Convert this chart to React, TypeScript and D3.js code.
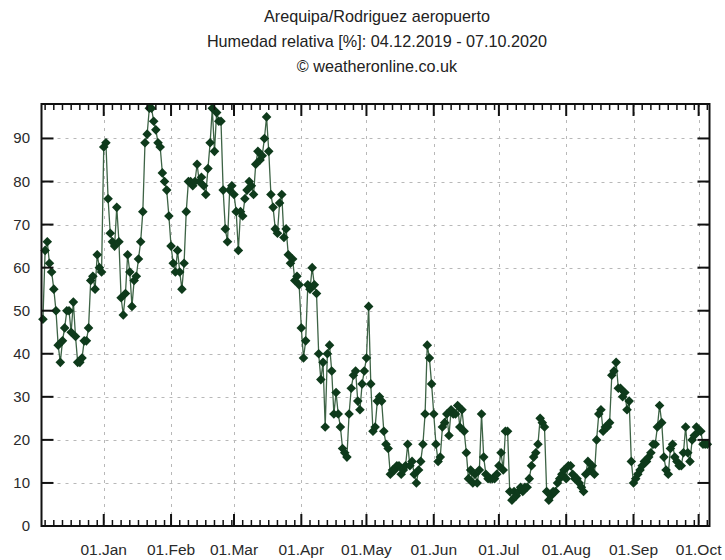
import React, { useEffect, useRef } from 'react';
import * as d3 from 'd3';

// daily relative humidity, one value per day starting 04.12.2019
const firstDay = new Date(2019, 11, 4);
const humidity = [
  48, 64, 66, 61, 59, 55, 50, 42, 38, 43,
  46, 50, 50, 45, 52, 44, 38, 38, 39, 43,
  43, 46, 57, 58, 55, 63, 60, 59, 88, 89,
  76, 68, 66, 65, 74, 66, 53, 49, 54, 63,
  59, 51, 57, 58, 62, 66, 73, 89, 91, 97,
  97, 94, 92, 89, 88, 82, 80, 78, 72, 65,
  61, 59, 64, 59, 55, 61, 73, 80, 80, 79,
  80, 84, 80, 81, 79, 77, 83, 89, 97, 87,
  96, 94, 94, 78, 69, 66, 78, 79, 77, 73,
  64, 73, 72, 76, 78, 80, 79, 77, 84, 87,
  85, 86, 90, 95, 87, 77, 74, 69, 68, 75,
  77, 67, 69, 63, 61, 62, 57, 58, 56, 46,
  39, 43, 56, 55, 60, 56, 54, 40, 34, 38,
  23, 40, 42, 36, 26, 31, 26, 23, 18, 17,
  16, 26, 32, 35, 36, 29, 27, 33, 36, 39,
  51, 33, 22, 23, 29, 30, 29, 22, 19, 18,
  12, 13, 13, 14, 14, 12, 13, 14, 19, 14,
  15, 12, 10, 13, 15, 19, 26, 42, 39, 33,
  26, 19, 15, 16, 23, 24, 26, 21, 27, 26,
  26, 28, 23, 27, 22, 17, 11, 13, 10, 12,
  10, 13, 26, 16, 12, 11, 11, 11, 11, 12,
  14, 17, 13, 22, 22, 8, 6, 8, 7, 8,
  9, 8, 9, 9, 11, 14, 16, 17, 19, 25,
  24, 23, 8, 6, 7, 8, 8, 10, 11, 12,
  13, 11, 14, 14, 12, 11, 11, 10, 9, 8,
  12, 15, 13, 14, 12, 20, 26, 27, 22, 23,
  23, 24, 35, 36, 38, 32, 32, 30, 31, 27,
  29, 15, 10, 11, 12, 13, 14, 15, 15, 16,
  17, 19, 19, 23, 28, 24, 16, 13, 12, 18,
  19, 16, 15, 14, 14, 17, 23, 17, 15, 20,
  21, 23, 22, 22, 19, 19, 19,
];

const yTicks = [0, 10, 20, 30, 40, 50, 60, 70, 80, 90];
const monthLabels = ['01.Jan', '01.Feb', '01.Mar', '01.Apr', '01.May', '01.Jun', '01.Jul', '01.Aug', '01.Sep', '01.Oct'];
const titleLines = [
  'Arequipa/Rodriguez aeropuerto',
  'Humedad relativa [%]: 04.12.2019 - 07.10.2020',
  '\u00a9 weatheronline.co.uk',
];

const W = 725;
const H = 560;
const box = { left: 41.5, right: 709.5, top: 104, bottom: 526 };
const font = '"Liberation Sans", Arial, sans-serif';

const draw = (el: SVGSVGElement) => {
  const svg = d3.select(el);
  svg.selectAll('*').remove();

  const data = humidity.map((v, i) => ({ date: d3.timeDay.offset(firstDay, i), v }));

  const x = d3.scaleTime()
    .domain([new Date(2019, 11, 3, 8), new Date(2020, 9, 6)])
    .range([box.left, box.right]);
  const y = d3.scaleLinear().domain([0, 98]).range([box.bottom, box.top]);

  const months = monthLabels.map((_, i) => new Date(2020, i, 1));
  const minor = d3.timeDay.every(4)!
    .range(x.domain()[0], x.domain()[1])
    .filter(d => d.getDate() !== 1);

  svg.append('rect').attr('width', W).attr('height', H).attr('fill', '#fff');

  // titles
  svg.append('g')
    .selectAll('text')
    .data(titleLines)
    .enter()
    .append('text')
    .attr('x', 377)
    .attr('y', (d, i) => 22 + i * 25)
    .attr('text-anchor', 'middle')
    .attr('font-family', font)
    .attr('font-size', 16.2)
    .attr('fill', '#222')
    .text(d => d);

  // grid
  const grid = svg.append('g')
    .attr('stroke', '#b8b8b8')
    .attr('stroke-width', 1)
    .attr('stroke-dasharray', '3,5');
  grid.selectAll('.gy')
    .data(yTicks.filter(t => t > 0))
    .enter()
    .append('line')
    .attr('x1', box.left)
    .attr('x2', box.right)
    .attr('y1', d => Math.round(y(d)) + 0.5)
    .attr('y2', d => Math.round(y(d)) + 0.5);
  grid.selectAll('.gx')
    .data(months)
    .enter()
    .append('line')
    .attr('x1', d => Math.round(x(d)) + 0.5)
    .attr('x2', d => Math.round(x(d)) + 0.5)
    .attr('y1', box.top)
    .attr('y2', box.bottom);

  // series
  const line = d3.line<{ date: Date; v: number }>()
    .x(d => x(d.date))
    .y(d => y(d.v));
  svg.append('path')
    .datum(data)
    .attr('d', line)
    .attr('fill', 'none')
    .attr('stroke', '#3d6345')
    .attr('stroke-width', 1.3);

  const diamond = d3.symbol().type(d3.symbolSquare).size(46);
  svg.append('g')
    .selectAll('path')
    .data(data)
    .enter()
    .append('path')
    .attr('d', diamond)
    .attr('transform', d => `translate(${x(d.date)},${y(d.v)}) rotate(45)`)
    .attr('fill', '#0e3a1b');

  // frame and ticks
  const axes = svg.append('g').attr('stroke', '#111');
  axes.append('rect')
    .attr('x', box.left)
    .attr('y', box.top)
    .attr('width', box.right - box.left)
    .attr('height', box.bottom - box.top)
    .attr('fill', 'none')
    .attr('stroke-width', 2);

  const yt = axes.selectAll('.yt').data(yTicks).enter().append('g');
  yt.append('line')
    .attr('x1', box.left).attr('x2', box.left + 12)
    .attr('y1', d => y(d)).attr('y2', d => y(d))
    .attr('stroke-width', 2);
  yt.append('line')
    .attr('x1', box.right).attr('x2', box.right - 12)
    .attr('y1', d => y(d)).attr('y2', d => y(d))
    .attr('stroke-width', 2);

  const xt = axes.selectAll('.xt').data(months).enter().append('g');
  xt.append('line')
    .attr('x1', d => x(d)).attr('x2', d => x(d))
    .attr('y1', box.bottom).attr('y2', box.bottom - 12)
    .attr('stroke-width', 2);
  xt.append('line')
    .attr('x1', d => x(d)).attr('x2', d => x(d))
    .attr('y1', box.top).attr('y2', box.top + 12)
    .attr('stroke-width', 2);

  const mt = axes.selectAll('.mt').data(minor).enter().append('g');
  mt.append('line')
    .attr('x1', d => x(d)).attr('x2', d => x(d))
    .attr('y1', box.bottom).attr('y2', box.bottom - 6)
    .attr('stroke-width', 1.5);
  mt.append('line')
    .attr('x1', d => x(d)).attr('x2', d => x(d))
    .attr('y1', box.top).attr('y2', box.top + 6)
    .attr('stroke-width', 1.5);

  // tick labels
  svg.append('g')
    .selectAll('text')
    .data(yTicks)
    .enter()
    .append('text')
    .attr('x', 30)
    .attr('y', d => y(d) + 5)
    .attr('text-anchor', 'end')
    .attr('font-family', font)
    .attr('font-size', 15)
    .attr('fill', '#2a2a2a')
    .text(d => d);

  svg.append('g')
    .selectAll('text')
    .data(months)
    .enter()
    .append('text')
    .attr('x', d => x(d))
    .attr('y', 555)
    .attr('text-anchor', 'middle')
    .attr('font-family', font)
    .attr('font-size', 15.5)
    .attr('fill', '#2a2a2a')
    .text((d, i) => monthLabels[i]);
};

export default function App() {
  const ref = useRef<SVGSVGElement>(null);
  useEffect(() => {
    if (ref.current) draw(ref.current);
  }, []);
  return (
    <svg
      ref={ref}
      width={W}
      height={H}
      style={{ position: 'absolute', left: 0, top: 0 }}
    />
  );
}
